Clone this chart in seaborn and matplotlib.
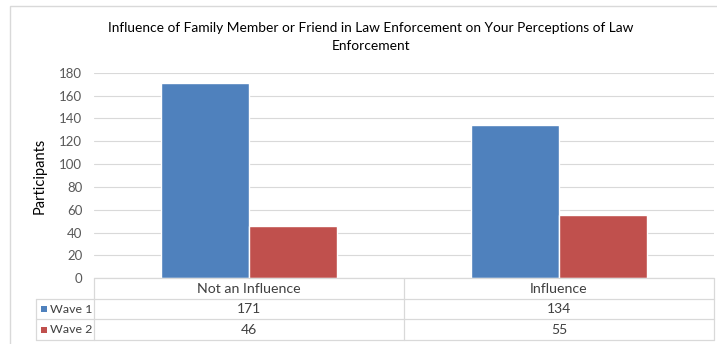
import matplotlib
matplotlib.use("Agg")
import matplotlib.pyplot as plt
import seaborn as sns
import pandas as pd
from matplotlib.patches import Rectangle
from matplotlib.lines import Line2D

categories = ["Not an Influence", "Influence"]
series_names = ["Wave 1", "Wave 2"]
wave1 = [171, 134]
wave2 = [46, 55]
yticks = [0, 20, 40, 60, 80, 100, 120, 140, 160, 180]
title = "Influence of Family Member or Friend in Law Enforcement on Your Perceptions of Law\nEnforcement"
ylabel = "Participants"
colors = ["#4F81BD", "#C0504D"]

df = pd.DataFrame({
    "category": categories * 2,
    "series": [series_names[0]] * 2 + [series_names[1]] * 2,
    "value": wave1 + wave2,
})

sns.set_style("white")
plt.rcParams["font.family"] = ["Lato", "DejaVu Sans"]

W, H = 717, 344
fig = plt.figure(figsize=(W / 100, H / 100), dpi=100)
fig.patch.set_facecolor("white")

def fx(x):
    return x / W

def fy(y):
    return 1 - y / H

# outer chart border (left & top visible)
fig.add_artist(Rectangle((fx(10), fy(400)), fx(800), fy(6) - fy(400), transform=fig.transFigure,
                         fill=False, edgecolor="#D9D9D9", lw=1.0))

left, right, top, bottom = 94, 714, 72.7, 278.3
ax = fig.add_axes([fx(left), fy(bottom), fx(right - left), fy(top) - fy(bottom)])
sns.barplot(data=df, x="category", y="value", hue="series", palette=colors,
            width=0.57, ax=ax, legend=False, saturation=1)
ax.set_ylim(0, 180)
ax.set_xlim(-0.5, 1.5)
ax.set_yticks(yticks)
ax.set_yticklabels([str(t) for t in yticks], color="#595959", fontsize=9.5)
ax.tick_params(axis="y", length=0, pad=8.5)
ax.set_xticks([])
ax.set_xlabel("")
ax.set_ylabel(ylabel, fontsize=10.5, color="#000000", labelpad=9)
ax.yaxis.grid(True, color="#D9D9D9", lw=0.8)
ax.set_axisbelow(True)
for s in ax.spines.values():
    s.set_visible(False)
ax.patch.set_alpha(0)

fig.text(fx(371), fy(37), title, ha="center", va="center",
         fontsize=9.9, color="#000000", linespacing=1.7)

# data table
rows = [278.3, 299.3, 319.3, 340.0]
tab_left = 36
line_c = "#D9D9D9"
def hline(y, x0, x1):
    fig.add_artist(Line2D([fx(x0), fx(x1)], [fy(y), fy(y)], transform=fig.transFigure, color=line_c, lw=0.9))
def vline(x, y0, y1):
    fig.add_artist(Line2D([fx(x), fx(x)], [fy(y0), fy(y1)], transform=fig.transFigure, color=line_c, lw=0.9))

hline(rows[0], left, right)
for y in rows[1:]:
    hline(y, tab_left, right)
vline(tab_left, rows[1], rows[3])
vline(left, rows[0], rows[3])
mid = (left + right) / 2
vline(mid, rows[0], rows[3])
vline(right, rows[0], rows[3])

col_centers = [(left + mid) / 2, (mid + right) / 2]
txt_c = "#404040"
for i, c in enumerate(categories):
    fig.text(fx(col_centers[i]), fy((rows[0] + rows[1]) / 2), c, ha="center", va="center", fontsize=10.2, color=txt_c)
for r, (name, vals, col) in enumerate(zip(series_names, [wave1, wave2], colors)):
    yc = (rows[r + 1] + rows[r + 2]) / 2
    fig.add_artist(Rectangle((fx(41), fy(yc + 3)), fx(6), fy(yc - 3) - fy(yc + 3),
                             transform=fig.transFigure, facecolor=col, edgecolor="none"))
    fig.text(fx(50), fy(yc), name, ha="left", va="center", fontsize=8.9, color=txt_c)
    for i, v in enumerate(vals):
        fig.text(fx(col_centers[i]), fy(yc), str(v), ha="center", va="center", fontsize=10, color=txt_c)

fig.savefig("out.png", dpi=100, facecolor="white")
